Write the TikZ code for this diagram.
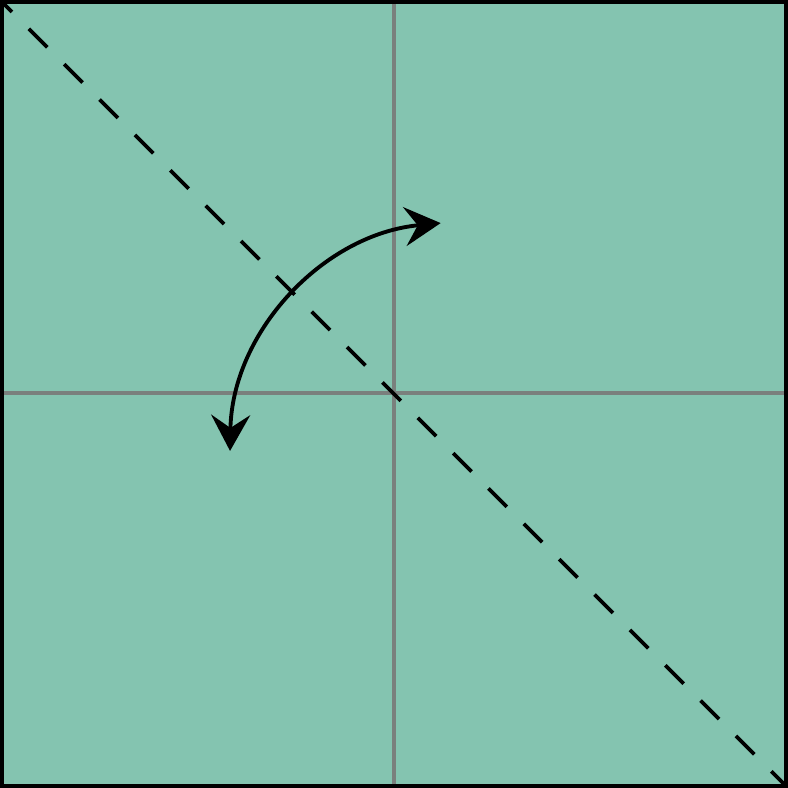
\documentclass[tikz,border=0pt]{standalone}
\usepackage{tikz}
\usetikzlibrary{arrows.meta,calc}
\definecolor{paper}{RGB}{132,196,176}
\definecolor{creasegray}{RGB}{122,128,125}

\begin{document}
\begin{tikzpicture}[x=1cm,y=1cm]
        \useasboundingbox (0,0) rectangle (7.88,7.88);
        % Define points
        \coordinate (SW) at (0.02, 0.02);
        \coordinate (NE) at (7.86, 7.86);
        \coordinate (NW) at (0.02, 7.86);
        \coordinate (SE) at (7.86, 0.02);
        \coordinate (M) at (3.94, 3.95);
        \coordinate (C) at (4.63, 3.33);
        % Draw the paper
        \fill[paper] (SW) rectangle (NE);
        % Creases
        \draw[creasegray, line width=1.1pt] (M |- SW) -- (M |- NE);
        \draw[creasegray, line width=1.1pt] (M -| SW) -- (M -| NE);
        % Fold line
        \draw[line width=1.1pt, dash pattern=on 0.26cm off 0.24cm, dash phase=0.12cm] (NW) -- (SE);
        % Fold arrow
        \draw[line width=1.1pt, {Stealth[length=3.6mm,width=3.9mm,inset=1.3mm]}-{Stealth[length=3.6mm,width=3.9mm,inset=1.3mm]}]
        ($(C)+(179:2.33)$) arc[start angle=179, end angle=95.5, radius=2.33];
        % Border
        \draw[line width=1.3pt] (SW) rectangle (NE);
      \end{tikzpicture}
\end{document}
